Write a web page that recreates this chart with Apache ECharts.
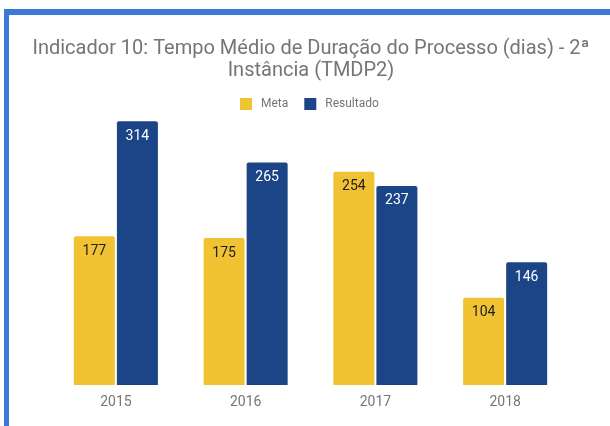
<!DOCTYPE html>
<html>
<head>
<meta charset="utf-8">
<script src="https://cdn.jsdelivr.net/npm/echarts@6/dist/echarts.min.js"></script>
<style>
html, body { margin: 0; padding: 0; background: #fff; }
#frame {
    position: absolute;
    left: 4px;
    top: 9px;
    width: 606px;
    height: 417px;
    border-top: 6px solid #3c78d8;
    border-left: 5px solid #3c78d8;
    box-sizing: border-box;
}
#chart { position: absolute; left: 0; top: 0; width: 610px; height: 426px; }
</style>
</head>
<body>
<div id="frame"></div>
<div id="chart"></div>
<script>
const years = ['2015', '2016', '2017', '2018'];
const meta = [177, 175, 254, 104];
const resultado = [314, 265, 237, 146];

var myChart = echarts.init(document.getElementById('chart'));

const labelStyle = (color) => ({
    show: true,
    position: 'insideTop',
    distance: 8,
    color: color,
    fontSize: 14,
    fontFamily: 'Roboto'
});

myChart.setOption({
    textStyle: { fontFamily: 'Roboto' },
    title: {
        text: 'Indicador 10: Tempo Médio de Duração do Processo (dias) - 2ª\nInstância (TMDP2)',
        left: 306,
        textAlign: 'center',
        top: 33,
        textStyle: {
            fontFamily: 'Roboto',
            fontSize: 20,
            fontWeight: 'normal',
            color: '#757575',
            lineHeight: 22
        }
    },
    legend: {
        top: 93,
        left: 235,
        icon: 'rect',
        itemWidth: 12,
        itemHeight: 12,
        itemGap: 16,
        textStyle: {
            fontSize: 12,
            color: '#757575',
            fontFamily: 'Roboto',
            padding: [0, 0, 0, 4]
        }
    },
    grid: {
        left: 51,
        right: 40,
        top: 91,
        bottom: 41
    },
    xAxis: {
        type: 'category',
        data: years,
        axisLine: { show: false },
        axisTick: { show: false },
        axisLabel: { fontSize: 14, color: '#757575', margin: 10 }
    },
    yAxis: {
        type: 'value',
        min: 0,
        max: 350,
        show: false,
        splitLine: { show: false }
    },
    series: [
        {
            name: 'Meta',
            type: 'bar',
            data: meta,
            barWidth: 41,
            barGap: '5%',
            itemStyle: { color: '#f1c232', borderRadius: [2, 2, 0, 0] },
            label: labelStyle('#212121')
        },
        {
            name: 'Resultado',
            type: 'bar',
            data: resultado,
            barWidth: 41,
            itemStyle: { color: '#1c4587', borderRadius: [2, 2, 0, 0] },
            label: labelStyle('#ffffff')
        }
    ]
});
</script>
</body>
</html>
